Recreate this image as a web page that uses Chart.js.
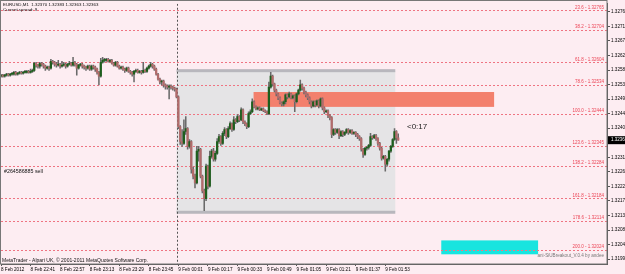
<!DOCTYPE html>
<html>
<head>
<meta charset="utf-8">
<script src="https://cdn.jsdelivr.net/npm/chart.js@4"></script>
<style>
  html, body { margin: 0; padding: 0; background: #fdedf2; }
  canvas { display: block; }
</style>
</head>
<body>
<canvas id="mtChart" width="625" height="274"></canvas>
<script>
// EURUSD M1, 8 Feb 22:25 -> 9 Feb 02:00 (one candle per minute)
const opens = [
  1.32561,1.32564,1.32561,1.32564,1.32567,1.32564,1.32567,1.32567,1.32573,1.32567,
  1.32570,1.32573,1.32570,1.32573,1.32573,1.32576,1.32573,1.32576,1.32579,1.32601,
  1.32595,1.32592,1.32601,1.32598,1.32592,1.32586,1.32589,1.32586,1.32607,1.32604,
  1.32598,1.32595,1.32598,1.32592,1.32595,1.32598,1.32592,1.32598,1.32601,1.32595,
  1.32604,1.32598,1.32586,1.32595,1.32598,1.32592,1.32589,1.32586,1.32592,1.32583,
  1.32592,1.32589,1.32583,1.32573,1.32561,1.32604,1.32610,1.32610,1.32613,1.32607,
  1.32610,1.32601,1.32595,1.32604,1.32592,1.32586,1.32589,1.32583,1.32579,1.32586,
  1.32576,1.32573,1.32567,1.32576,1.32579,1.32573,1.32576,1.32573,1.32579,1.32576,
  1.32586,1.32592,1.32598,1.32592,1.32583,1.32567,1.32552,1.32543,1.32546,1.32534,
  1.32530,1.32527,1.32530,1.32527,1.32524,1.32521,1.32497,1.32405,1.32359,1.32353,
  1.32390,1.32399,1.32344,1.32359,1.32273,1.32252,1.32231,1.32329,1.32335,1.32252,
  1.32206,1.32182,1.32283,1.32221,1.32313,1.32329,1.32304,1.32322,1.32359,1.32374,
  1.32353,1.32384,1.32396,1.32374,1.32399,1.32414,1.32396,1.32426,1.32420,1.32436,
  1.32426,1.32457,1.32420,1.32414,1.32405,1.32445,1.32451,1.32482,1.32466,1.32460,
  1.32463,1.32457,1.32460,1.32454,1.32451,1.32445,1.32527,1.32561,1.32537,1.32518,
  1.32506,1.32494,1.32478,1.32475,1.32482,1.32503,1.32497,1.32506,1.32494,1.32500,
  1.32482,1.32506,1.32518,1.32534,1.32524,1.32512,1.32503,1.32494,1.32482,1.32469,
  1.32482,1.32472,1.32485,1.32469,1.32491,1.32463,1.32451,1.32454,1.32439,1.32433,
  1.32381,1.32396,1.32387,1.32396,1.32377,1.32390,1.32381,1.32387,1.32396,1.32387,
  1.32393,1.32384,1.32387,1.32381,1.32374,1.32368,1.32335,1.32319,1.32338,1.32341,
  1.32347,1.32374,1.32371,1.32377,1.32368,1.32353,1.32338,1.32307,1.32313,1.32289,
  1.32304,1.32329,1.32344,1.32365,1.32390,1.32370
];
const highs = [
  1.32567,1.32567,1.32567,1.32570,1.32570,1.32570,1.32573,1.32576,1.32576,1.32573,
  1.32576,1.32576,1.32576,1.32579,1.32579,1.32579,1.32583,1.32583,1.32604,1.32604,
  1.32598,1.32604,1.32604,1.32601,1.32595,1.32592,1.32592,1.32613,1.32610,1.32607,
  1.32604,1.32610,1.32601,1.32607,1.32604,1.32601,1.32601,1.32607,1.32604,1.32619,
  1.32607,1.32601,1.32598,1.32601,1.32601,1.32595,1.32592,1.32595,1.32595,1.32595,
  1.32595,1.32592,1.32586,1.32576,1.32616,1.32619,1.32616,1.32616,1.32616,1.32613,
  1.32613,1.32604,1.32607,1.32607,1.32595,1.32592,1.32592,1.32586,1.32589,1.32589,
  1.32579,1.32576,1.32579,1.32583,1.32583,1.32579,1.32579,1.32604,1.32583,1.32589,
  1.32595,1.32604,1.32601,1.32595,1.32586,1.32570,1.32555,1.32549,1.32549,1.32537,
  1.32534,1.32534,1.32534,1.32530,1.32527,1.32524,1.32500,1.32408,1.32396,1.32426,
  1.32436,1.32402,1.32365,1.32362,1.32280,1.32258,1.32344,1.32344,1.32338,1.32255,
  1.32212,1.32289,1.32286,1.32329,1.32335,1.32338,1.32329,1.32368,1.32381,1.32377,
  1.32390,1.32402,1.32399,1.32405,1.32420,1.32417,1.32436,1.32430,1.32442,1.32439,
  1.32463,1.32460,1.32423,1.32417,1.32451,1.32457,1.32491,1.32485,1.32469,1.32466,
  1.32466,1.32463,1.32463,1.32457,1.32454,1.32543,1.32573,1.32564,1.32540,1.32521,
  1.32509,1.32497,1.32482,1.32485,1.32506,1.32506,1.32512,1.32509,1.32503,1.32503,
  1.32509,1.32521,1.32549,1.32537,1.32527,1.32515,1.32506,1.32497,1.32485,1.32485,
  1.32485,1.32488,1.32488,1.32494,1.32494,1.32466,1.32457,1.32457,1.32442,1.32436,
  1.32399,1.32399,1.32399,1.32399,1.32393,1.32393,1.32390,1.32399,1.32399,1.32396,
  1.32396,1.32390,1.32390,1.32384,1.32377,1.32371,1.32338,1.32341,1.32344,1.32350,
  1.32384,1.32377,1.32381,1.32381,1.32371,1.32356,1.32341,1.32316,1.32316,1.32307,
  1.32332,1.32347,1.32368,1.32399,1.32393,1.32383
];
const lows = [
  1.32558,1.32558,1.32558,1.32561,1.32561,1.32561,1.32564,1.32564,1.32564,1.32564,
  1.32567,1.32567,1.32567,1.32570,1.32570,1.32570,1.32570,1.32573,1.32576,1.32589,
  1.32586,1.32586,1.32592,1.32586,1.32579,1.32583,1.32579,1.32583,1.32598,1.32592,
  1.32589,1.32592,1.32586,1.32589,1.32592,1.32586,1.32589,1.32595,1.32592,1.32592,
  1.32592,1.32564,1.32583,1.32592,1.32586,1.32583,1.32579,1.32583,1.32579,1.32579,
  1.32583,1.32576,1.32567,1.32534,1.32558,1.32601,1.32604,1.32607,1.32604,1.32604,
  1.32598,1.32592,1.32592,1.32589,1.32583,1.32583,1.32579,1.32573,1.32576,1.32573,
  1.32567,1.32561,1.32543,1.32573,1.32570,1.32570,1.32567,1.32570,1.32573,1.32573,
  1.32583,1.32589,1.32586,1.32579,1.32564,1.32549,1.32537,1.32534,1.32527,1.32521,
  1.32521,1.32491,1.32521,1.32518,1.32515,1.32494,1.32399,1.32350,1.32344,1.32350,
  1.32381,1.32335,1.32338,1.32261,1.32243,1.32215,1.32228,1.32298,1.32246,1.32200,
  1.32145,1.32176,1.32212,1.32218,1.32307,1.32298,1.32298,1.32319,1.32353,1.32347,
  1.32350,1.32377,1.32368,1.32371,1.32396,1.32390,1.32393,1.32414,1.32417,1.32420,
  1.32423,1.32414,1.32408,1.32399,1.32402,1.32442,1.32448,1.32463,1.32457,1.32457,
  1.32454,1.32454,1.32451,1.32448,1.32442,1.32442,1.32524,1.32530,1.32512,1.32500,
  1.32488,1.32475,1.32469,1.32469,1.32475,1.32491,1.32494,1.32491,1.32491,1.32451,
  1.32478,1.32503,1.32515,1.32518,1.32506,1.32497,1.32488,1.32475,1.32463,1.32466,
  1.32466,1.32469,1.32463,1.32466,1.32457,1.32445,1.32448,1.32433,1.32426,1.32371,
  1.32377,1.32381,1.32384,1.32368,1.32374,1.32374,1.32377,1.32384,1.32381,1.32384,
  1.32381,1.32381,1.32374,1.32368,1.32362,1.32329,1.32310,1.32316,1.32332,1.32335,
  1.32344,1.32365,1.32368,1.32362,1.32347,1.32332,1.32301,1.32304,1.32267,1.32283,
  1.32298,1.32325,1.32341,1.32362,1.32353,1.32363
];
const closes = [
  1.32564,1.32561,1.32564,1.32567,1.32564,1.32567,1.32567,1.32573,1.32567,1.32570,
  1.32573,1.32570,1.32573,1.32573,1.32576,1.32573,1.32576,1.32579,1.32601,1.32595,
  1.32592,1.32601,1.32598,1.32592,1.32586,1.32589,1.32586,1.32607,1.32604,1.32598,
  1.32595,1.32598,1.32592,1.32595,1.32598,1.32592,1.32598,1.32601,1.32595,1.32604,
  1.32598,1.32586,1.32595,1.32598,1.32592,1.32589,1.32586,1.32592,1.32583,1.32592,
  1.32589,1.32583,1.32573,1.32561,1.32604,1.32610,1.32610,1.32613,1.32607,1.32610,
  1.32601,1.32595,1.32604,1.32592,1.32586,1.32589,1.32583,1.32579,1.32586,1.32576,
  1.32573,1.32567,1.32576,1.32579,1.32573,1.32576,1.32573,1.32579,1.32576,1.32586,
  1.32592,1.32598,1.32592,1.32583,1.32567,1.32552,1.32543,1.32546,1.32534,1.32530,
  1.32527,1.32530,1.32527,1.32524,1.32521,1.32497,1.32405,1.32359,1.32353,1.32390,
  1.32399,1.32344,1.32359,1.32273,1.32252,1.32231,1.32329,1.32335,1.32252,1.32206,
  1.32182,1.32283,1.32221,1.32313,1.32329,1.32304,1.32322,1.32359,1.32374,1.32353,
  1.32384,1.32396,1.32374,1.32399,1.32414,1.32396,1.32426,1.32420,1.32436,1.32426,
  1.32457,1.32420,1.32414,1.32405,1.32445,1.32451,1.32482,1.32466,1.32460,1.32463,
  1.32457,1.32460,1.32454,1.32451,1.32445,1.32527,1.32561,1.32537,1.32518,1.32506,
  1.32494,1.32478,1.32475,1.32482,1.32503,1.32497,1.32506,1.32494,1.32500,1.32482,
  1.32506,1.32518,1.32534,1.32524,1.32512,1.32503,1.32494,1.32482,1.32469,1.32482,
  1.32472,1.32485,1.32469,1.32491,1.32463,1.32451,1.32454,1.32439,1.32433,1.32381,
  1.32396,1.32387,1.32396,1.32377,1.32390,1.32381,1.32387,1.32396,1.32387,1.32393,
  1.32384,1.32387,1.32381,1.32374,1.32368,1.32335,1.32319,1.32338,1.32341,1.32347,
  1.32374,1.32371,1.32377,1.32368,1.32353,1.32338,1.32307,1.32313,1.32289,1.32304,
  1.32329,1.32344,1.32365,1.32390,1.32370,1.32363
];

// price axis
const yTicks = [1.32760,1.32715,1.32670,1.32625,1.32580,1.32535,1.32490,1.32445,1.32400,1.32355,
                1.32310,1.32265,1.32220,1.32175,1.32130,1.32085,1.32040,1.31995];
const yMin = 1.31980, yMax = 1.32785;
const currentPrice = 1.32363;

// time axis: one slot per minute, chart shifted to the right
const startMinute = 22 * 60 + 25;
const totalSlots = 329;
const xTickIdx = [0,16,32,48,64,80,96,112,128,144,160,176,192,208];
const xTickLabels = ['8 Feb 2012','8 Feb 22:41','8 Feb 22:57','8 Feb 23:13','8 Feb 23:29','8 Feb 23:45',
  '9 Feb 00:01','9 Feb 00:17','9 Feb 00:33','9 Feb 00:49','9 Feb 01:05','9 Feb 01:21','9 Feb 01:37','9 Feb 01:53'];

// fibo levels
const fibPct = ['23.6','38.2','61.8','78.6','100.0','123.6','138.2','161.8','178.6','200.0'];
const fibPrices = [1.32765,1.32704,1.32604,1.32534,1.32444,1.32345,1.32284,1.32184,1.32114,1.32024];

// breakout box (slot index span, high/low)
const rangeBoxSpan = [95, 213.4];
const rangeBoxPrices = [1.32578, 1.32140];
const salmonSpan = [136.7, 266.9];
const salmonPrices = [1.32512, 1.32466];
const cyanSpan = [238.3, 290.7];
const cyanPrices = [1.32053, 1.32010];
const separatorIdx = 95;

const times = [];
for (let k = 0; k < totalSlots; k++) {
  const m = (startMinute + k) % 1440;
  times.push(String(Math.floor(m / 60)).padStart(2, '0') + ':' + String(m % 60).padStart(2, '0'));
}

const upColor = '#1d5e1d', downColor = '#b36b6b', wickColor = '#6a6a6a';
const fontFam = "'Liberation Sans', Arial, sans-serif";
Chart.defaults.font.family = fontFam;

const mtOverlay = {
  id: 'mtOverlay',
  beforeDraw(chart) {
    const ctx = chart.ctx;
    ctx.save();
    ctx.fillStyle = '#fdedf2';
    ctx.fillRect(0, 0, chart.width, chart.height);
    ctx.restore();
  },
  beforeDatasetsDraw(chart) {
    const { ctx, chartArea: a, scales: { x, y } } = chart;
    ctx.save();
    ctx.beginPath();
    ctx.rect(a.left, a.top, a.right - a.left, a.bottom - a.top);
    ctx.clip();

    // range box
    const bx0 = x.getPixelForValue(rangeBoxSpan[0]), bx1 = x.getPixelForValue(rangeBoxSpan[1]);
    const bt = y.getPixelForValue(rangeBoxPrices[0]), bb = y.getPixelForValue(rangeBoxPrices[1]);
    ctx.fillStyle = '#e5e4e6';
    ctx.fillRect(bx0, bt, bx1 - bx0, bb - bt);
    ctx.fillStyle = '#b8b7bd';
    ctx.fillRect(bx0, bt - 1.5, bx1 - bx0, 3);
    ctx.fillRect(bx0, bb - 1.5, bx1 - bx0, 3);

    // zones
    let zx0 = x.getPixelForValue(salmonSpan[0]), zx1 = x.getPixelForValue(salmonSpan[1]);
    let zt = y.getPixelForValue(salmonPrices[0]), zb = y.getPixelForValue(salmonPrices[1]);
    ctx.fillStyle = '#f3806d';
    ctx.fillRect(zx0, zt, zx1 - zx0, zb - zt);
    zx0 = x.getPixelForValue(cyanSpan[0]); zx1 = x.getPixelForValue(cyanSpan[1]);
    zt = y.getPixelForValue(cyanPrices[0]); zb = y.getPixelForValue(cyanPrices[1]);
    ctx.fillStyle = '#18e4df';
    ctx.fillRect(zx0, zt, zx1 - zx0, zb - zt);

    // fibo lines
    ctx.strokeStyle = '#ef7482';
    ctx.lineWidth = 1;
    ctx.setLineDash([2, 2]);
    fibPrices.forEach(p => {
      const py = Math.round(y.getPixelForValue(p)) + 0.5;
      ctx.beginPath(); ctx.moveTo(a.left, py); ctx.lineTo(a.right, py); ctx.stroke();
    });

    // day separator
    ctx.strokeStyle = '#555';
    const sx = Math.round(x.getPixelForValue(separatorIdx)) + 0.5;
    ctx.beginPath(); ctx.moveTo(sx, a.top); ctx.lineTo(sx, a.bottom); ctx.stroke();
    ctx.restore();
  },
  afterDraw(chart) {
    const { ctx, chartArea: a, scales: { y } } = chart;
    ctx.save();
    // frame
    ctx.strokeStyle = '#777';
    ctx.lineWidth = 1;
    ctx.strokeRect(0.5, 0.5, a.right - 0.5, a.bottom - 0.5);

    // fibo labels
    ctx.font = '4.5px ' + fontFam;
    ctx.fillStyle = '#ec4556';
    ctx.textAlign = 'right';
    ctx.textBaseline = 'bottom';
    fibPrices.forEach((p, i) => {
      ctx.fillText(fibPct[i] + ' - ' + p.toFixed(5), a.right - 3, y.getPixelForValue(p) - 0.5);
    });

    // texts
    ctx.textAlign = 'left';
    ctx.textBaseline = 'middle';
    ctx.fillStyle = '#111';
    ctx.font = '4.4px ' + fontFam;
    ctx.fillText('EURUSD,M1  1.32370 1.32383 1.32363 1.32363', 3, 5);
    ctx.fillText('Current spread: 9', 3, 10);
    ctx.font = '5.3px ' + fontFam;
    ctx.fillText('#264586885 sell', 4, 172);
    ctx.font = '5px ' + fontFam;
    ctx.fillText('MetaTrader - Alpari UK, \u00a9 2001-2011 MetaQuotes Software Corp.', 2, 261);
    ctx.font = '8px ' + fontFam;
    ctx.fillStyle = '#222';
    ctx.fillText('<0:17', 407, 127);
    ctx.font = '4.6px ' + fontFam;
    ctx.fillStyle = '#777';
    ctx.textAlign = 'right';
    ctx.fillText('ani-SiUBreakout_V.0.4 by andee', a.right - 3, 256);

    // current price marker
    const cy = y.getPixelForValue(currentPrice);
    ctx.fillStyle = '#000';
    ctx.fillRect(a.right + 1, cy - 4, 20, 8);
    ctx.fillStyle = '#fff';
    ctx.textAlign = 'left';
    ctx.font = '4.5px ' + fontFam;
    ctx.fillText(currentPrice.toFixed(5), a.right + 4, cy);
    ctx.restore();
  }
};

const ctx = document.getElementById('mtChart').getContext('2d');
new Chart(ctx, {
  type: 'bar',
  data: {
    labels: times,
    datasets: [{
      label: 'body',
      data: opens.map((o, i) => [o, closes[i]]),
      backgroundColor: opens.map((o, i) => closes[i] >= o ? upColor : downColor),
      barThickness: 1.6,
      minBarLength: 1,
      grouped: false,
      order: 0
    }, {
      label: 'wick',
      data: lows.map((l, i) => [l, highs[i]]),
      backgroundColor: wickColor,
      barThickness: 0.9,
      grouped: false,
      order: 1
    }]
  },
  options: {
    responsive: false,
    animation: false,
    devicePixelRatio: 1,
    events: [],
    layout: { padding: { left: 0, top: 1, right: 0, bottom: 0 } },
    plugins: { legend: { display: false }, tooltip: { enabled: false } },
    scales: {
      x: {
        type: 'category',
        offset: false,
        grid: { offset: false, drawOnChartArea: false, drawTicks: true, tickLength: 2, color: '#555' },
        border: { display: true, color: '#555' },
        ticks: {
          autoSkip: false, maxRotation: 0, minRotation: 0, align: 'start', padding: 1,
          color: '#000', font: { size: 4.6 },
          callback: function(value) { return xTickLabels[xTickIdx.indexOf(value)]; }
        },
        afterBuildTicks: s => { s.ticks = xTickIdx.map(v => ({ value: v })); },
        afterFit: s => { s.height = 10; }
      },
      y: {
        position: 'right',
        min: yMin,
        max: yMax,
        grid: { drawOnChartArea: false, drawTicks: true, tickLength: 3, color: '#555' },
        border: { display: true, color: '#555' },
        ticks: {
          autoSkip: false, padding: 1, color: '#000', font: { size: 4.6 },
          callback: function(value) { return value.toFixed(5); }
        },
        afterBuildTicks: s => { s.ticks = yTicks.map(v => ({ value: v })); },
        afterFit: s => { s.width = 18; }
      }
    }
  },
  plugins: [mtOverlay]
});
</script>
</body>
</html>
